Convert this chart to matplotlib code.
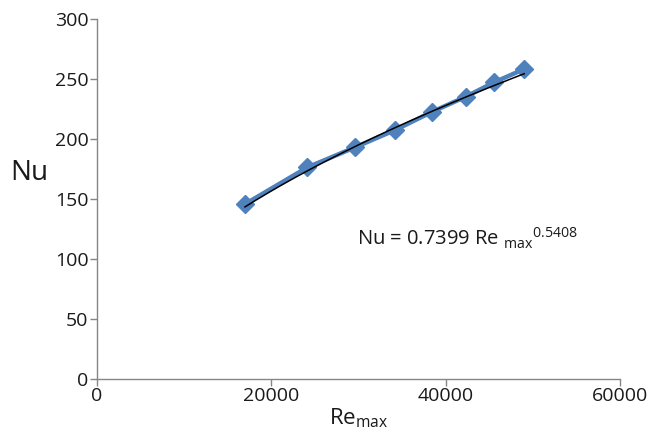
import numpy as np
import matplotlib
matplotlib.use("Agg")
import matplotlib.pyplot as plt

re_max = [16980, 24130, 29600, 34190, 38470, 42300, 45550, 48990]
nu = [145.8, 176.4, 193.1, 207.5, 222.8, 235.3, 247.3, 258.3]
fit_a = 0.7399
fit_b = 0.5408
x_ticks = [0, 20000, 40000, 60000]
y_ticks = [0, 50, 100, 150, 200, 250, 300]

FONT = "Open Sans"
plt.rcParams['font.family'] = [FONT, 'DejaVu Sans']
plt.rcParams['mathtext.fontset'] = 'custom'
plt.rcParams['mathtext.rm'] = FONT
plt.rcParams['mathtext.it'] = FONT

fig = plt.figure(figsize=(6.64, 4.33), dpi=100)
ax = fig.add_axes([0.146, 0.1247, 0.788, 0.8313])

blue = '#4F81BD'
grey = '#868686'
txt = '#1a1a1a'
ax.plot(re_max, nu, color=blue, lw=3.2, marker='D', ms=9.5, mfc=blue, mec=blue, zorder=2)
xf = np.linspace(re_max[0], re_max[-1], 200)
ax.plot(xf, fit_a * xf ** fit_b, color='black', lw=1.1, zorder=3)

ax.set_xlim(0, 60000)
ax.set_ylim(0, 300)
ax.set_xticks(x_ticks)
ax.set_yticks(y_ticks)
for s in ['top', 'right']:
    ax.spines[s].set_visible(False)
for s in ['left', 'bottom']:
    ax.spines[s].set_color(grey)
    ax.spines[s].set_linewidth(1.0)
ax.tick_params(direction='out', length=5, width=1.0, color=grey, labelsize=14,
               labelcolor=txt, pad=1)

ax.set_xlabel(r"Re$_{\mathrm{max}}$", fontsize=16, color=txt, labelpad=1)
fig.text(0.016, 0.60, "Nu", fontsize=20, color=txt, ha='left', va='center')

ax.text(29830, 111, r"Nu = 0.7399 Re $_{\mathrm{max}}$$^{0.5408}$", fontsize=14.5,
        color=txt, ha='left', va='baseline')

fig.savefig("out.png", dpi=100)
